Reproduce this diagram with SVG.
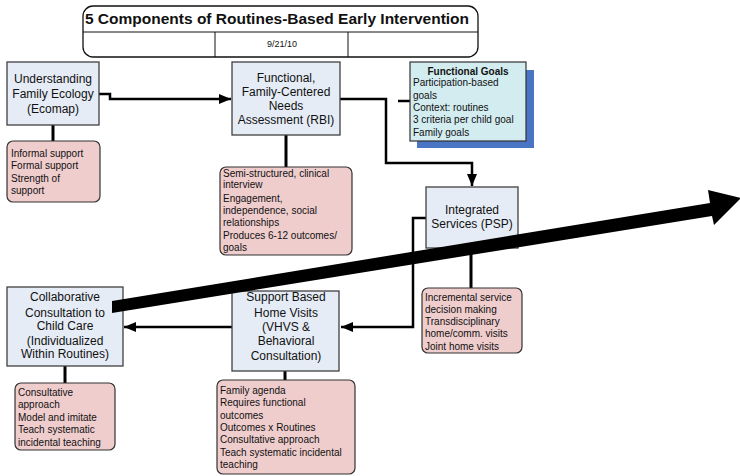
<svg xmlns="http://www.w3.org/2000/svg" width="740" height="476" viewBox="0 0 740 476">
  <defs>
    <marker id="head" viewBox="0 0 12 10" refX="12" refY="5" markerWidth="12" markerHeight="10" markerUnits="userSpaceOnUse" orient="auto">
      <path d="M0,0 L12,5 L0,10 Z" fill="#000"/>
    </marker>
    <style>
      text { font-family: "Liberation Sans", Arial, sans-serif; fill: #111; }
      .node rect { fill: #e6ecf6; stroke: #404040; stroke-width: 1.3; }
      .note rect { fill: #efcdcd; stroke: #333; stroke-width: 1.2; }
      .node text { font-size: 12px; text-anchor: middle; }
      .note text { font-size: 10px; }
      .conn { fill: none; stroke: #000; stroke-width: 2.5; }
      .stem { fill: none; stroke: #000; stroke-width: 3; }
    </style>
  </defs>

  <rect width="740" height="476" fill="#fff"/>

  <!-- title block -->
  <g id="title">
    <rect x="83" y="6" width="395" height="51" rx="10" fill="#fff" stroke="#111" stroke-width="1.3"/>
    <line x1="83" y1="32" x2="478" y2="32" stroke="#111" stroke-width="1"/>
    <line x1="215" y1="32" x2="215" y2="57" stroke="#111" stroke-width="1"/>
    <line x1="348" y1="32" x2="348" y2="57" stroke="#111" stroke-width="1"/>
    <text x="277" y="23.5" font-size="15.5" font-weight="bold" text-anchor="middle">5 Components of Routines-Based Early Intervention</text>
    <text x="282" y="47" font-size="9" text-anchor="middle">9/21/10</text>
  </g>

  <!-- connectors -->
  <g id="connectors">
    <polyline class="conn" points="99,94 110,94 110,99 231,99" marker-end="url(#head)"/>
    <polyline class="conn" points="340,99 386,99 386,163 472,163 472,186" marker-end="url(#head)"/>
    <line class="conn" x1="398" y1="101" x2="410" y2="101"/>
    <polyline class="conn" points="426,218 413,218 413,327 341,327" marker-end="url(#head)"/>
    <line class="conn" x1="232" y1="327" x2="124" y2="327" marker-end="url(#head)"/>
    <line class="stem" x1="53" y1="125" x2="53" y2="141"/>
    <line class="stem" x1="286" y1="135" x2="286" y2="167"/>
    <line class="stem" x1="471" y1="248" x2="471" y2="288"/>
    <line class="stem" x1="65" y1="366" x2="65" y2="383"/>
    <line class="stem" x1="285" y1="371" x2="285" y2="380"/>
  </g>

  <!-- components -->
  <g id="ecomap" class="node">
    <rect x="7" y="62" width="92" height="63"/>
    <text x="53" y="83">Understanding</text>
    <text x="53" y="98">Family Ecology</text>
    <text x="53" y="113">(Ecomap)</text>
  </g>
  <g id="ecomap-notes" class="note">
    <rect x="7" y="141" width="93" height="61" rx="6"/>
    <text x="11" y="157">Informal support</text>
    <text x="11" y="169">Formal support</text>
    <text x="11" y="181.5">Strength of</text>
    <text x="11" y="193.5">support</text>
  </g>

  <g id="rbi" class="node">
    <rect x="232" y="62" width="108" height="73"/>
    <text x="286" y="82">Functional,</text>
    <text x="286" y="96">Family-Centered</text>
    <text x="286" y="110">Needs</text>
    <text x="286" y="123.5">Assessment (RBI)</text>
  </g>
  <g id="rbi-notes" class="note">
    <rect x="220" y="167" width="132" height="88" rx="6"/>
    <text x="223" y="176.5">Semi-structured, clinical</text>
    <text x="223" y="188">interview</text>
    <text x="223" y="201.5">Engagement,</text>
    <text x="223" y="213.5">independence, social</text>
    <text x="223" y="225.5">relationships</text>
    <text x="223" y="238.5">Produces 6-12 outcomes/</text>
    <text x="223" y="250.5">goals</text>
  </g>

  <g id="functional-goals">
    <rect x="417" y="70" width="117" height="78" fill="#4a74c4"/>
    <rect x="410" y="62" width="116" height="79" fill="#d3ecf0" stroke="#333" stroke-width="1.2"/>
    <text x="468" y="74.5" font-size="10" font-weight="bold" text-anchor="middle">Functional Goals</text>
    <text x="413" y="86" font-size="10">Participation-based</text>
    <text x="413" y="98.5" font-size="10">goals</text>
    <text x="413" y="110.5" font-size="10">Context: routines</text>
    <text x="413" y="122.5" font-size="10">3 criteria per child goal</text>
    <text x="413" y="135.5" font-size="10">Family goals</text>
  </g>

  <g id="psp" class="node">
    <rect x="426" y="187" width="92" height="61"/>
    <text x="472" y="214">Integrated</text>
    <text x="472" y="227.5">Services (PSP)</text>
  </g>
  <g id="psp-notes" class="note">
    <rect x="422" y="288" width="100" height="65" rx="6"/>
    <text x="425" y="300.5">Incremental service</text>
    <text x="425" y="312.5">decision making</text>
    <text x="425" y="324.5">Transdisciplinary</text>
    <text x="425" y="336.5">home/comm. visits</text>
    <text x="425" y="349.5">Joint home visits</text>
  </g>

  <g id="home-visits" class="node">
    <rect x="232" y="291" width="107" height="80"/>
    <text x="286" y="301">Support Based</text>
    <text x="286" y="317">Home Visits</text>
    <text x="286" y="331">(VHVS &amp;</text>
    <text x="286" y="345">Behavioral</text>
    <text x="286" y="359.5">Consultation)</text>
  </g>
  <g id="home-visits-notes" class="note">
    <rect x="217" y="380" width="138" height="94" rx="6"/>
    <text x="220" y="393.5">Family agenda</text>
    <text x="220" y="405.5">Requires functional</text>
    <text x="220" y="418.5">outcomes</text>
    <text x="220" y="430.5">Outcomes x Routines</text>
    <text x="220" y="442.5">Consultative approach</text>
    <text x="220" y="455.5">Teach systematic incidental</text>
    <text x="220" y="467.5">teaching</text>
  </g>

  <g id="child-care" class="node">
    <rect x="7" y="287" width="116" height="79"/>
    <text x="65" y="301">Collaborative</text>
    <text x="65" y="316.5">Consultation to</text>
    <text x="65" y="330">Child Care</text>
    <text x="65" y="344.5">(Individualized</text>
    <text x="65" y="358">Within Routines)</text>
  </g>
  <g id="child-care-notes" class="note">
    <rect x="15" y="383" width="100" height="67" rx="6"/>
    <text x="18" y="395.5">Consultative</text>
    <text x="18" y="407.5">approach</text>
    <text x="18" y="420.5">Model and imitate</text>
    <text x="18" y="432.5">Teach systematic</text>
    <text x="18" y="445.5">incidental teaching</text>
  </g>

  <!-- progression arrow drawn across everything -->
  <g id="progression">
    <polygon points="112,301 710,203 708,190 741,198 714,225 712,216 112,313" fill="#000"/>
  </g>
</svg>
